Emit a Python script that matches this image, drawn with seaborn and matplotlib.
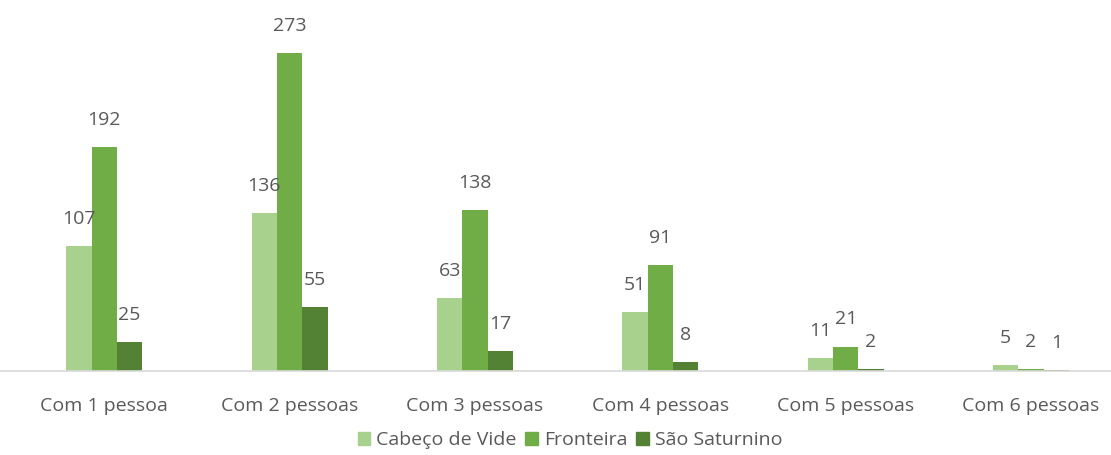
import pandas as pd
import numpy as np
import matplotlib
matplotlib.use('Agg')
import matplotlib.pyplot as plt
import seaborn as sns

categories = ['Com 1 pessoa', 'Com 2 pessoas', 'Com 3 pessoas',
              'Com 4 pessoas', 'Com 5 pessoas', 'Com 6 pessoas']
series = ['Cabeço de Vide', 'Fronteira', 'São Saturnino']
cabeco_de_vide = [107, 136, 63, 51, 11, 5]
fronteira = [192, 273, 138, 91, 21, 2]
sao_saturnino = [25, 55, 17, 8, 2, 1]

colors = ['#A9D18E', '#70AD47', '#548235']
text_color = '#595959'

df = pd.DataFrame({
    'categoria': categories * 3,
    'freguesia': np.repeat(series, len(categories)),
    'valor': cabeco_de_vide + fronteira + sao_saturnino,
})

sns.set_style('white')
plt.rcParams['font.family'] = ['Open Sans', 'DejaVu Sans']

fig = plt.figure(figsize=(11.11, 4.55), dpi=100)
ax = fig.add_axes([0.0, 0.1846, 1.0, 0.768])

sns.barplot(
    data=df,
    x='categoria',
    y='valor',
    hue='freguesia',
    order=categories,
    hue_order=series,
    palette=colors,
    width=0.41,
    gap=0,
    saturation=1,
    linewidth=0,
    ax=ax,
    legend=False,
)

for container in ax.containers:
    ax.bar_label(container, padding=13, fontsize=14, color=text_color)

ax.set_xlim(-0.562, 5.431)
ax.set_ylim(0, 300)
ax.set_xlabel('')
ax.set_ylabel('')
ax.set_yticks([])
ax.tick_params(axis='x', length=0, pad=19, labelsize=14, labelcolor=text_color)
for side in ['top', 'left', 'right']:
    ax.spines[side].set_visible(False)
ax.spines['bottom'].set_color('#D9D9D9')
ax.spines['bottom'].set_linewidth(1.2)

handles = [plt.Rectangle((0, 0), 1, 1, color=c) for c in colors]
fig.legend(handles, series, loc='center', bbox_to_anchor=(570 / 1111, 1 - 440 / 455),
           ncol=3, frameon=False, fontsize=14, labelcolor=text_color,
           handlelength=0.65, handleheight=0.65, handletextpad=0.3, columnspacing=0.45)

plt.savefig('out.png', dpi=100)
